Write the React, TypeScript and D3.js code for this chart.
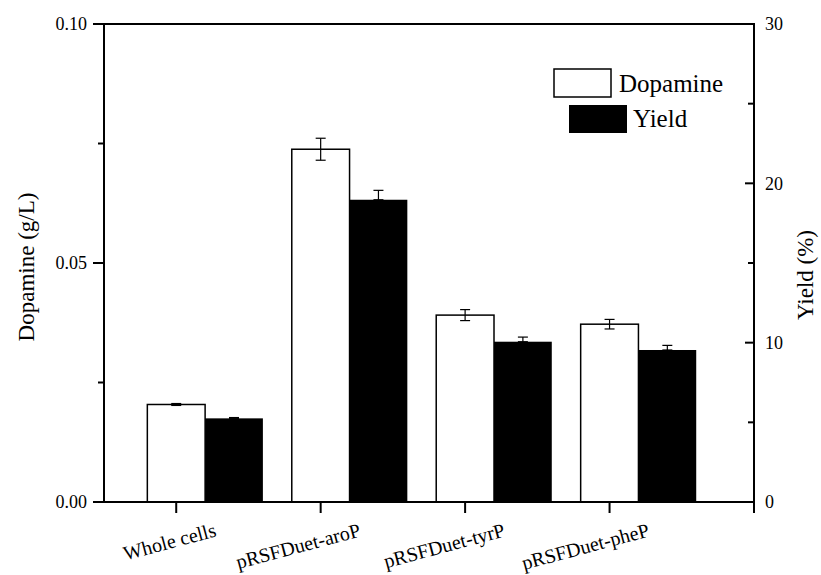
import React, { useRef, useEffect } from "react";
import * as d3 from "d3";

const categories = ["Whole cells", "pRSFDuet-aroP", "pRSFDuet-tyrP", "pRSFDuet-pheP"];
const dopamine = [0.0204, 0.0738, 0.0391, 0.0372];
const dopamineErr = [0.0002, 0.0023, 0.00115, 0.001];
const yieldPct = [5.25, 18.97, 10.06, 9.54];
const yieldErr = [0.05, 0.59, 0.29, 0.29];
const leftTicks = [0, 0.05, 0.1];
const leftMinor = [0.025, 0.075];
const rightTicks = [0, 10, 20, 30];
const rightMinor = [5, 15, 25];

const FONT = "'Liberation Serif', 'Times New Roman', serif";

const App: React.FC = () => {
  const svgRef = useRef<SVGSVGElement>(null);
  const width = 821;
  const height = 575;
  const margin = { top: 24, right: 67, bottom: 73, left: 104 };

  useEffect(() => {
    if (!svgRef.current) return;
    const svg = d3.select(svgRef.current);
    svg.selectAll("*").remove();

    const x0 = margin.left;
    const x1 = width - margin.right;
    const y0 = height - margin.bottom;
    const y1 = margin.top;

    // x positions: category i sits at i + 1, axis from 0.5 to 5
    const x = d3.scaleLinear().domain([0.5, 5]).range([x0, x1]);
    const yL = d3.scaleLinear().domain([0, 0.1]).range([y0, y1]);
    const yR = d3.scaleLinear().domain([0, 30]).range([y0, y1]);
    const barW = x(1.4) - x(1);

    svg.append("rect").attr("width", width).attr("height", height).attr("fill", "#fff");

    const g = svg.append("g");

    categories.forEach((c, i) => {
      const cx = x(i + 1);
      // dopamine bars (white)
      g.append("rect")
        .attr("x", cx - barW / 2)
        .attr("y", yL(dopamine[i]))
        .attr("width", barW)
        .attr("height", y0 - yL(dopamine[i]))
        .attr("fill", "#fff")
        .attr("stroke", "#000")
        .attr("stroke-width", 1.5);
      // yield bars (black)
      g.append("rect")
        .attr("x", cx + barW / 2)
        .attr("y", yR(yieldPct[i]))
        .attr("width", barW)
        .attr("height", y0 - yR(yieldPct[i]))
        .attr("fill", "#000");
    });

    // error bars
    const errBar = (cx: number, top: number, bot: number, cap: number) => {
      g.append("line").attr("x1", cx).attr("x2", cx).attr("y1", top).attr("y2", bot)
        .attr("stroke", "#000").attr("stroke-width", 1.2);
      [top, bot].forEach((yy) =>
        g.append("line").attr("x1", cx - cap).attr("x2", cx + cap).attr("y1", yy).attr("y2", yy)
          .attr("stroke", "#000").attr("stroke-width", 1.2)
      );
    };
    categories.forEach((c, i) => {
      const cx = x(i + 1);
      errBar(cx, yL(dopamine[i] + dopamineErr[i]), yL(dopamine[i] - dopamineErr[i]), 5);
      errBar(cx + barW, yR(yieldPct[i] + yieldErr[i]), yR(yieldPct[i]), 5);
    });

    // frame
    g.append("rect")
      .attr("x", x0).attr("y", y1)
      .attr("width", x1 - x0).attr("height", y0 - y1)
      .attr("fill", "none").attr("stroke", "#000").attr("stroke-width", 2);

    // left ticks (outward)
    leftTicks.forEach((t) => {
      g.append("line").attr("x1", x0 - 11).attr("x2", x0).attr("y1", yL(t)).attr("y2", yL(t))
        .attr("stroke", "#000").attr("stroke-width", 2);
      g.append("text").attr("x", x0 - 17).attr("y", yL(t)).attr("dy", "0.35em")
        .attr("text-anchor", "end").style("font-family", FONT).style("font-size", "18px")
        .text(d3.format(".2f")(t));
    });
    leftMinor.forEach((t) => {
      g.append("line").attr("x1", x0 - 6).attr("x2", x0).attr("y1", yL(t)).attr("y2", yL(t))
        .attr("stroke", "#000").attr("stroke-width", 2);
    });

    // right ticks (inward)
    rightTicks.forEach((t) => {
      g.append("line").attr("x1", x1 - 9).attr("x2", x1).attr("y1", yR(t)).attr("y2", yR(t))
        .attr("stroke", "#000").attr("stroke-width", 2);
      g.append("text").attr("x", x1 + 11).attr("y", yR(t)).attr("dy", "0.35em")
        .attr("text-anchor", "start").style("font-family", FONT).style("font-size", "18px")
        .text(String(t));
    });
    rightMinor.forEach((t) => {
      g.append("line").attr("x1", x1 - 6).attr("x2", x1).attr("y1", yR(t)).attr("y2", yR(t))
        .attr("stroke", "#000").attr("stroke-width", 2);
    });

    // bottom ticks at 1..5
    d3.range(1, 6).forEach((t) => {
      g.append("line").attr("x1", x(t)).attr("x2", x(t)).attr("y1", y0).attr("y2", y0 + 11)
        .attr("stroke", "#000").attr("stroke-width", 2);
    });

    // rotated category labels
    categories.forEach((c, i) => {
      const lx = x(i + 1) + 41;
      const ly = y0 + 34;
      g.append("text")
        .attr("transform", `translate(${lx},${ly}) rotate(-15)`)
        .attr("text-anchor", "end")
        .style("font-family", FONT).style("font-size", "20px")
        .text(c);
    });

    // axis titles
    svg.append("text")
      .attr("transform", `translate(34,${(y0 + y1) / 2 + 4}) rotate(-90)`)
      .attr("text-anchor", "middle")
      .style("font-family", FONT).style("font-size", "23px")
      .text("Dopamine (g/L)");
    svg.append("text")
      .attr("transform", `translate(813,${(y0 + y1) / 2 + 12}) rotate(-90)`)
      .attr("text-anchor", "middle")
      .style("font-family", FONT).style("font-size", "23px")
      .text("Yield (%)");

    // legend
    const legend = svg.append("g");
    legend.append("rect").attr("x", 554).attr("y", 69).attr("width", 57).attr("height", 28)
      .attr("fill", "#fff").attr("stroke", "#000").attr("stroke-width", 1.5);
    legend.append("text").attr("x", 619).attr("y", 92)
      .style("font-family", FONT).style("font-size", "25px").text("Dopamine");
    legend.append("rect").attr("x", 569).attr("y", 105).attr("width", 58).attr("height", 28)
      .attr("fill", "#000");
    legend.append("text").attr("x", 633).attr("y", 127)
      .style("font-family", FONT).style("font-size", "25px").text("Yield");
  }, []);

  return (
    <div style={{ position: "absolute", left: 0, top: 0 }}>
      <svg ref={svgRef} width={width} height={height} />
    </div>
  );
};

export default App;
